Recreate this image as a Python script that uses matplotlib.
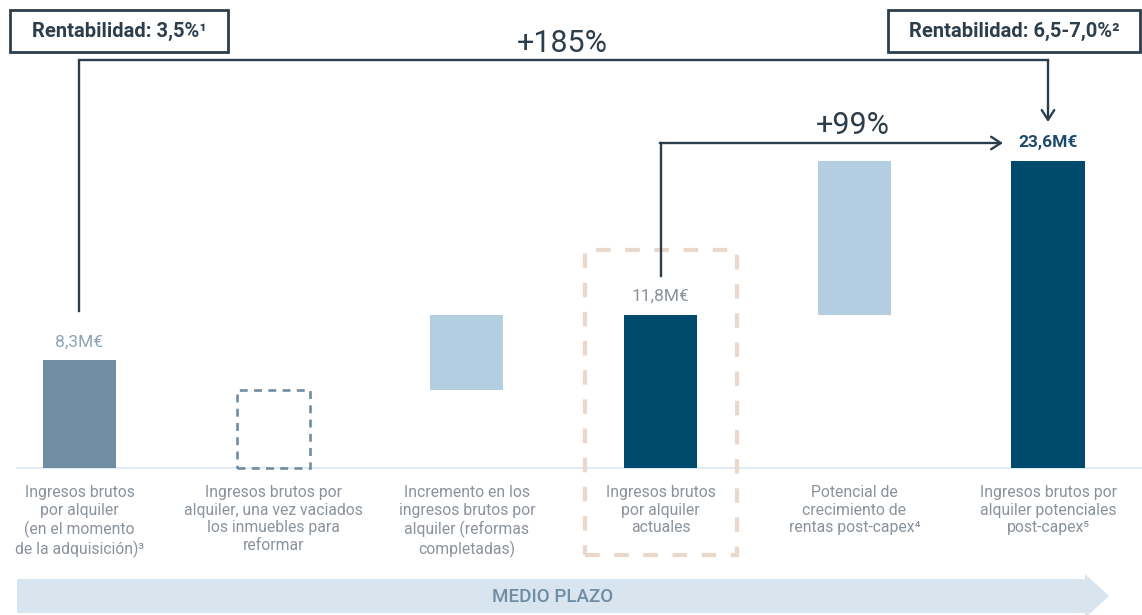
"""Waterfall of gross rental income (M€) from acquisition to post-capex potential."""

import matplotlib

matplotlib.use("Agg")
import matplotlib.pyplot as plt  # noqa: E402
from matplotlib.patches import Polygon, Rectangle  # noqa: E402

plt.rcParams["font.family"] = ["Roboto", "DejaVu Sans"]

# --- data -------------------------------------------------------------------
categories = [
    "Ingresos brutos\npor alquiler\n(en el momento\nde la adquisición)³",
    "Ingresos brutos por\nalquiler, una vez vaciados\nlos inmuebles para\nreformar",
    "Incremento en los\ningresos brutos por\nalquiler (reformas\ncompletadas)",
    "Ingresos brutos\npor alquiler\nactuales",
    "Potencial de\ncrecimiento de\nrentas post-capex⁴",
    "Ingresos brutos por\nalquiler potenciales\npost-capex⁵",
]
inicial = 8.3       # M€ at acquisition
vaciados = 6.0      # M€ once units emptied for refurbishment (estimated, unlabelled)
actuales = 11.8     # M€ current
potencial = 23.6    # M€ post-capex potential
value_labels = ["8,3M€", "11,8M€", "23,6M€"]
growth_labels = ["+185%", "+99%"]
yield_labels = ["Rentabilidad: 3,5%¹", "Rentabilidad: 6,5-7,0%²"]
timeline_label = "MEDIO PLAZO"

# --- colours ----------------------------------------------------------------
SLATE = "#6f8da3"
LIGHT = "#b2cee0"
NAVY = "#004a6e"
INK = "#2c3e4c"
GREY = "#8a929c"
BEIGE = "#ead9cb"
ARROW_BG = "#d8e5ef"

# layout: one axes over the whole figure, 1 unit per category, ~13 px per M€
W, H = 1142, 615
PX_X, X0 = 193.7, 79.5
PX_Y, BASE = 13.0, 468


def dx(px):
    return (px - X0) / PX_X


def dy(py):
    return (BASE - py) / PX_Y


fig = plt.figure(figsize=(W / 100, H / 100), dpi=100)
ax = fig.add_axes([0, 0, 1, 1])
ax.set_xlim(dx(0), dx(W))
ax.set_ylim(dy(H), dy(0))
ax.axis("off")

bw = 0.377
xs = list(range(len(categories)))

# baseline
ax.plot([dx(17), dx(W)], [0, 0], color="#dce7f0", lw=1.2, zorder=1)

# bars
ax.bar(xs[0], inicial, width=bw, color=SLATE, zorder=3)
ax.bar(xs[1], vaciados, width=bw, fill=False, edgecolor=SLATE, lw=1.9,
       linestyle=(0, (3.0, 2.4)), zorder=3)
ax.bar(xs[2], actuales - vaciados, bottom=vaciados, width=bw, color=LIGHT, zorder=3)
ax.bar(xs[3], actuales, width=bw, color=NAVY, zorder=3)
ax.bar(xs[4], potencial - actuales, bottom=actuales, width=bw, color=LIGHT, zorder=3)
ax.bar(xs[5], potencial, width=bw, color=NAVY, zorder=3)

# value labels
ax.text(xs[0], inicial + 0.8, value_labels[0], ha="center", va="bottom",
        fontsize=12.5, color="#8ea4b6")
ax.text(xs[3], actuales + 0.8, value_labels[1], ha="center", va="bottom",
        fontsize=12.5, color=GREY)
ax.text(xs[5], potencial + 0.9, value_labels[2], ha="center", va="bottom",
        fontsize=12.5, color="#1b4a6c", fontweight="bold")

# highlight box around current income
ax.add_patch(Rectangle((dx(585), dy(555)), dx(737) - dx(585), dy(250) - dy(555),
                       fill=False, edgecolor=BEIGE, lw=3.0,
                       linestyle=(0, (3.5, 3.5)), zorder=2))

# category labels
for x, lab in zip(xs, categories):
    ax.text(x, dy(485), lab, ha="center", va="top", fontsize=11.3,
            color=GREY, linespacing=1.22)

# +185% connector
arrow_kw = dict(arrowstyle="->,head_length=0.7,head_width=0.45", color=INK, lw=1.7,
                shrinkA=0, shrinkB=0)
y185 = dy(60)
ax.plot([xs[0], xs[0], xs[5]], [inicial + 3.8, y185, y185], color=INK, lw=1.7,
        solid_joinstyle="miter", zorder=4)
ax.annotate("", xy=(xs[5], dy(122)), xytext=(xs[5], y185), arrowprops=arrow_kw)
ax.text(dx(562), dy(43), growth_labels[0], ha="center", va="center",
        fontsize=22, color=INK)

# +99% connector
y99 = dy(143)
ax.plot([xs[3], xs[3]], [actuales + 3.0, y99], color=INK, lw=1.7, zorder=4)
ax.annotate("", xy=(dx(1003), y99), xytext=(xs[3] - 0.004, y99), arrowprops=arrow_kw)
ax.text(dx(853), dy(126), growth_labels[1], ha="center", va="center",
        fontsize=22, color=INK)

# yield boxes
for (x1, x2), lab in zip([(10, 228), (888, 1140)], yield_labels):
    ax.add_patch(Rectangle((dx(x1), dy(52)), dx(x2) - dx(x1), dy(10) - dy(52),
                           fill=True, facecolor="white", edgecolor=INK, lw=2.0,
                           zorder=5))
    ax.text((dx(x1) + dx(x2)) / 2, dy(31), lab, ha="center", va="center",
            fontsize=14.5, color=INK, fontweight="bold", zorder=6)

# timeline arrow
pts = [(17, 579), (1085, 579), (1085, 574), (1109, 596), (1085, 618),
       (1085, 613), (17, 613)]
ax.add_patch(Polygon([(dx(a), dy(b)) for a, b in pts], closed=True,
                     facecolor=ARROW_BG, edgecolor="none", zorder=1))
ax.text(dx(553), dy(597), timeline_label, ha="center", va="center",
        fontsize=13.5, color=SLATE, fontweight="medium")

fig.savefig("out.png", dpi=100)
plt.close(fig)
